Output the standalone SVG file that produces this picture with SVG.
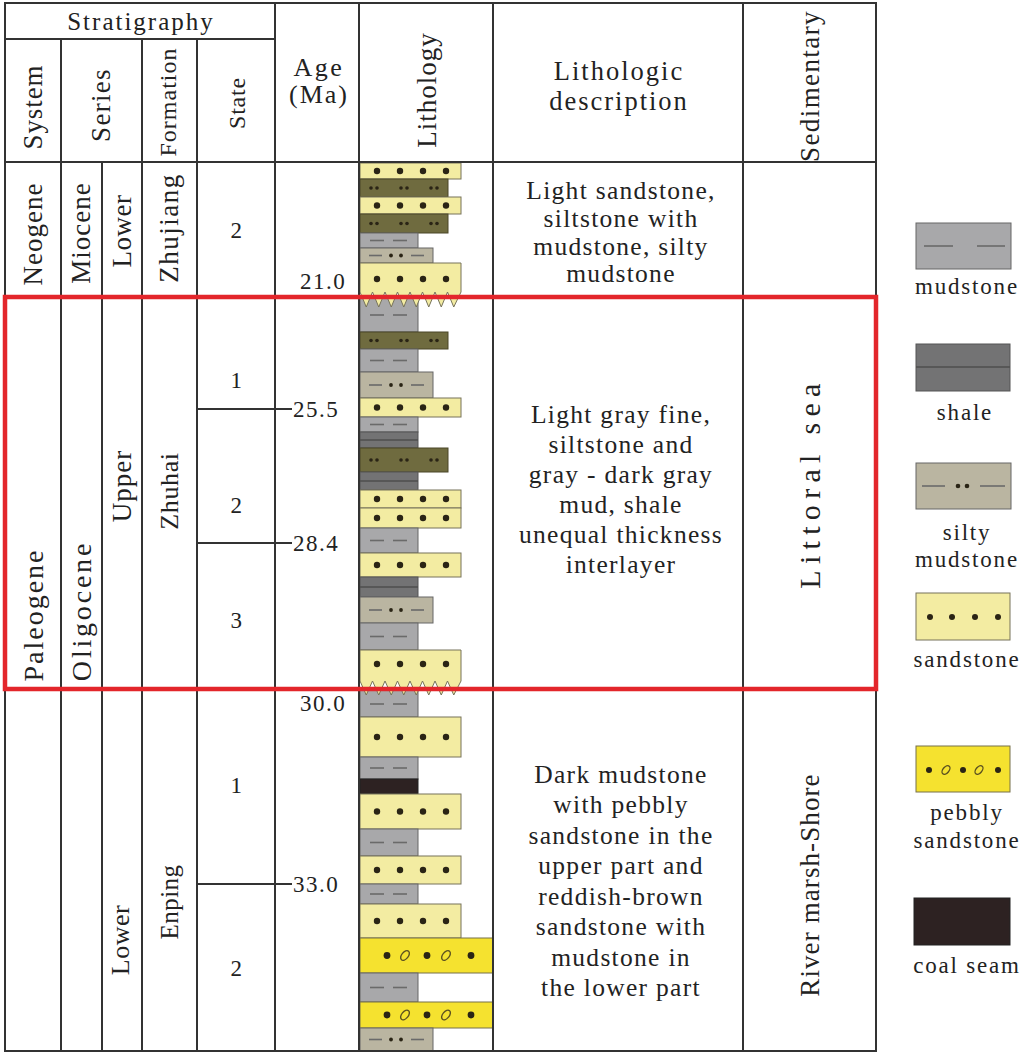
<svg xmlns="http://www.w3.org/2000/svg" width="1024" height="1054" viewBox="0 0 1024 1054">
<style>
.t{font-family:"Liberation Serif","Times New Roman",serif;fill:#222;}
.b{font-size:25.5px;letter-spacing:1.3px;}
.a{font-size:23px;letter-spacing:1.5px;}
.lg{font-size:23px;letter-spacing:1.8px;}
.grid{stroke:#333;stroke-width:2;fill:none;}
.mud{fill:#a8a8aa;stroke:#666;stroke-width:1;}
.shale{fill:#737374;stroke:#555;stroke-width:1;}
.silty{fill:#bab5a1;stroke:#666;stroke-width:1;}
.sand{fill:#f3eca2;stroke:#77735a;stroke-width:1;}
.olive{fill:#6f6b3f;stroke:#4a4728;stroke-width:1;}
.peb{fill:#f5e22f;stroke:#77704a;stroke-width:1;}
.coal{fill:#2d2222;stroke:#222;stroke-width:1;}
.dash{stroke:#6a6a6a;stroke-width:1.6;}
.sline{stroke:#4e4e4e;stroke-width:1.4;}
.dot{fill:#2a2415;}
.ov{fill:none;stroke:#5c5220;stroke-width:1.4;}
</style>
<defs>
<g id="sandDots"><circle cx="377" cy="0" r="3.2" class="dot"/><circle cx="400" cy="0" r="3.2" class="dot"/><circle cx="423" cy="0" r="3.2" class="dot"/><circle cx="446" cy="0" r="3.2" class="dot"/></g>
<g id="oliveDots"><circle cx="371" cy="0" r="1.8" class="dot"/><circle cx="377" cy="0" r="1.8" class="dot"/><circle cx="401" cy="0" r="1.8" class="dot"/><circle cx="407" cy="0" r="1.8" class="dot"/><circle cx="431" cy="0" r="1.8" class="dot"/><circle cx="437" cy="0" r="1.8" class="dot"/></g>
<g id="mudDash"><line x1="370" y1="0" x2="384" y2="0" class="dash"/><line x1="393" y1="0" x2="407" y2="0" class="dash"/></g>
<g id="siltyPat"><line x1="369" y1="0" x2="382" y2="0" class="dash"/><circle cx="391" cy="0" r="1.9" class="dot"/><circle cx="401" cy="0" r="1.9" class="dot"/><line x1="411" y1="0" x2="424" y2="0" class="dash"/></g>
<g id="pebPat"><circle cx="387" cy="0" r="3.4" class="dot"/><ellipse cx="405" cy="0" rx="5.5" ry="3.3" transform="rotate(-50 405 0)" class="ov"/><circle cx="427" cy="0" r="3.4" class="dot"/><ellipse cx="446" cy="0" rx="5.5" ry="3.3" transform="rotate(-50 446 0)" class="ov"/><circle cx="471" cy="0" r="3.4" class="dot"/></g>
</defs>

<g id="lithology">
<rect x="360" y="163" width="101" height="16" class="sand"/><use href="#sandDots" y="171"/>
<rect x="360" y="179" width="88" height="18" class="olive"/><use href="#oliveDots" y="188"/>
<rect x="360" y="197" width="101" height="17" class="sand"/><use href="#sandDots" y="205.5"/>
<rect x="360" y="214" width="88" height="19" class="olive"/><use href="#oliveDots" y="223.5"/>
<rect x="360" y="233" width="58" height="15" class="mud"/><use href="#mudDash" y="240.5"/>
<rect x="360" y="248" width="73" height="15" class="silty"/><use href="#siltyPat" y="255.5"/>
<rect x="360" y="297" width="58" height="35" class="mud"/><use href="#mudDash" y="315"/>
<path d="M360,263 H461 V292 L453.75,307 L447.5,292 L441.25,307 L435,292 L428.75,307 L422.5,292 L416.25,307 L410,292 L403.75,307 L397.5,292 L391.25,307 L385,292 L378.75,307 L372.5,292 L366.25,307 L360,292 Z" class="sand"/><use href="#sandDots" y="279"/>
<rect x="360" y="332" width="88" height="17" class="olive"/><use href="#oliveDots" y="340.5"/>
<rect x="360" y="349" width="58" height="23" class="mud"/><use href="#mudDash" y="360.5"/>
<rect x="360" y="372" width="73" height="26" class="silty"/><use href="#siltyPat" y="385"/>
<rect x="360" y="398" width="101" height="19" class="sand"/><use href="#sandDots" y="407.5"/>
<rect x="360" y="417" width="58" height="15" class="mud"/><use href="#mudDash" y="424.5"/>
<rect x="360" y="432" width="58" height="16" class="shale"/><line x1="360" y1="440" x2="418" y2="440" class="sline"/>
<rect x="360" y="448" width="88" height="24" class="olive"/><use href="#oliveDots" y="460"/>
<rect x="360" y="472" width="58" height="18" class="shale"/><line x1="360" y1="481" x2="418" y2="481" class="sline"/>
<rect x="360" y="490" width="101" height="18" class="sand"/><use href="#sandDots" y="499"/>
<rect x="360" y="508" width="101" height="20" class="sand"/><use href="#sandDots" y="518"/>
<rect x="360" y="528" width="58" height="25" class="mud"/><use href="#mudDash" y="540.5"/>
<rect x="360" y="553" width="101" height="24" class="sand"/><use href="#sandDots" y="565"/>
<rect x="360" y="577" width="58" height="20" class="shale"/><line x1="360" y1="587" x2="418" y2="587" class="sline"/>
<rect x="360" y="597" width="73" height="26" class="silty"/><use href="#siltyPat" y="610"/>
<rect x="360" y="623" width="58" height="27" class="mud"/><use href="#mudDash" y="636.5"/>
<rect x="360" y="688" width="58" height="29" class="mud"/><use href="#mudDash" y="704"/>
<path d="M360,650 H461 V681 L453.75,695 L447.5,681 L441.25,695 L435,681 L428.75,695 L422.5,681 L416.25,695 L410,681 L403.75,695 L397.5,681 L391.25,695 L385,681 L378.75,695 L372.5,681 L366.25,695 L360,681 Z" class="sand"/><use href="#sandDots" y="664"/>
<rect x="360" y="717" width="101" height="40" class="sand"/><use href="#sandDots" y="737"/>
<rect x="360" y="757" width="58" height="22" class="mud"/><use href="#mudDash" y="768"/>
<rect x="360" y="779" width="58" height="15" class="coal"/>
<rect x="360" y="794" width="101" height="35" class="sand"/><use href="#sandDots" y="811.5"/>
<rect x="360" y="829" width="58" height="27" class="mud"/><use href="#mudDash" y="842.5"/>
<rect x="360" y="856" width="101" height="28" class="sand"/><use href="#sandDots" y="870"/>
<rect x="360" y="884" width="58" height="20" class="mud"/><use href="#mudDash" y="894"/>
<rect x="360" y="904" width="101" height="34" class="sand"/><use href="#sandDots" y="921"/>
<rect x="360" y="938" width="133" height="35" class="peb"/><use href="#pebPat" y="955.5"/>
<rect x="360" y="973" width="58" height="29" class="mud"/><use href="#mudDash" y="987.5"/>
<rect x="360" y="1002" width="133" height="26" class="peb"/><use href="#pebPat" y="1015"/>
<rect x="360" y="1028" width="73" height="23" class="silty"/><use href="#siltyPat" y="1039.5"/>
</g>

<g id="connectors">
<rect x="5" y="3" width="871" height="1048" class="grid"/>
<line x1="5" y1="39" x2="275" y2="39" class="grid"/>
<line x1="5" y1="162" x2="876" y2="162" class="grid"/>
<line x1="61" y1="39" x2="61" y2="1051" class="grid"/>
<line x1="102" y1="162" x2="102" y2="1051" class="grid"/>
<line x1="142" y1="39" x2="142" y2="1051" class="grid"/>
<line x1="197" y1="39" x2="197" y2="1051" class="grid"/>
<line x1="275" y1="3" x2="275" y2="1051" class="grid"/>
<line x1="359" y1="3" x2="359" y2="1051" class="grid"/>
<line x1="493" y1="3" x2="493" y2="1051" class="grid"/>
<line x1="743" y1="3" x2="743" y2="1051" class="grid"/>
<line x1="61" y1="689" x2="876" y2="689" class="grid"/>
<line x1="197" y1="409" x2="292" y2="409" class="grid"/>
<line x1="197" y1="543" x2="292" y2="543" class="grid"/>
<line x1="197" y1="884" x2="292" y2="884" class="grid"/>
</g>

<g id="header">
<text class="t" font-size="25" letter-spacing="2" x="141" y="30" text-anchor="middle">Stratigraphy</text>
<text class="t" font-size="27" letter-spacing="0.9" transform="translate(42,107) rotate(-90)" text-anchor="middle">System</text>
<text class="t" font-size="27" letter-spacing="1.3" transform="translate(110,105) rotate(-90)" text-anchor="middle">Series</text>
<text class="t" font-size="24" letter-spacing="1" transform="translate(176,102) rotate(-90)" text-anchor="middle">Formation</text>
<text class="t" font-size="24" letter-spacing="0.8" transform="translate(245,103) rotate(-90)" text-anchor="middle">State</text>
<text class="t" font-size="26" letter-spacing="2.5" x="319" y="76" text-anchor="middle">Age</text>
<text class="t" font-size="26" letter-spacing="2" x="319" y="103" text-anchor="middle">(Ma)</text>
<text class="t" font-size="27" letter-spacing="1" transform="translate(436,90) rotate(-90)" text-anchor="middle">Lithology</text>
<text class="t" font-size="26.5" letter-spacing="2" x="619" y="80" text-anchor="middle">Lithologic</text>
<text class="t" font-size="26.5" letter-spacing="2" x="619" y="110" text-anchor="middle">description</text>
<text class="t" font-size="27" letter-spacing="1.4" transform="translate(819,86) rotate(-90)" text-anchor="middle">Sedimentary</text>
</g>

<g id="neogene">
<text class="t" font-size="27" letter-spacing="1" transform="translate(42,234) rotate(-90)" text-anchor="middle">Neogene</text>
<text class="t" font-size="27" letter-spacing="1" transform="translate(90,233) rotate(-90)" text-anchor="middle">Miocene</text>
<text class="t" font-size="27" letter-spacing="0.5" transform="translate(131,231) rotate(-90)" text-anchor="middle">Lower</text>
<text class="t" font-size="27" letter-spacing="1.5" transform="translate(178,228) rotate(-90)" text-anchor="middle">Zhujiang</text>
<text class="t a" x="237" y="238" text-anchor="middle">2</text>
<text class="t a" x="300" y="289">21.0</text>
<text class="t b" x="621" y="199" text-anchor="middle">Light sandstone,</text>
<text class="t b" x="621" y="227" text-anchor="middle">siltstone with</text>
<text class="t b" x="621" y="255" text-anchor="middle">mudstone, silty</text>
<text class="t b" x="621" y="282" text-anchor="middle">mudstone</text>
</g>

<g id="zhuhai">
<text class="t" font-size="28" letter-spacing="2" transform="translate(43,615) rotate(-90)" text-anchor="middle">Paleogene</text>
<text class="t" font-size="28" letter-spacing="2.8" transform="translate(91,611) rotate(-90)" text-anchor="middle">Oligocene</text>
<text class="t" font-size="27" letter-spacing="1" transform="translate(131,486) rotate(-90)" text-anchor="middle">Upper</text>
<text class="t" font-size="26" letter-spacing="0.6" transform="translate(178,491) rotate(-90)" text-anchor="middle">Zhuhai</text>
<text class="t a" x="237" y="388" text-anchor="middle">1</text>
<text class="t a" x="237" y="513" text-anchor="middle">2</text>
<text class="t a" x="237" y="628" text-anchor="middle">3</text>
<text class="t a" x="293" y="417">25.5</text>
<text class="t a" x="293" y="551">28.4</text>
<text class="t b" x="621" y="423" text-anchor="middle">Light gray fine,</text>
<text class="t b" x="621" y="453" text-anchor="middle">siltstone and</text>
<text class="t b" x="621" y="483" text-anchor="middle">gray - dark gray</text>
<text class="t b" x="621" y="513" text-anchor="middle">mud, shale</text>
<text class="t b" x="621" y="543" text-anchor="middle">unequal thickness</text>
<text class="t b" x="621" y="573" text-anchor="middle">interlayer</text>
<text class="t" font-size="30" letter-spacing="6.3" transform="translate(820,483) rotate(-90)" text-anchor="middle">Littoral sea</text>
</g>

<g id="enping">
<text class="t" font-size="26" letter-spacing="0.5" transform="translate(129,940) rotate(-90)" text-anchor="middle">Lower</text>
<text class="t" font-size="25" letter-spacing="0.5" transform="translate(178,902) rotate(-90)" text-anchor="middle">Enping</text>
<text class="t a" x="237" y="793" text-anchor="middle">1</text>
<text class="t a" x="237" y="976" text-anchor="middle">2</text>
<text class="t a" x="300" y="711">30.0</text>
<text class="t a" x="293" y="892">33.0</text>
<text class="t b" x="621" y="783" text-anchor="middle">Dark mudstone</text>
<text class="t b" x="621" y="813" text-anchor="middle">with pebbly</text>
<text class="t b" x="621" y="844" text-anchor="middle">sandstone in the</text>
<text class="t b" x="621" y="874" text-anchor="middle">upper part and</text>
<text class="t b" x="621" y="905" text-anchor="middle">reddish-brown</text>
<text class="t b" x="621" y="935" text-anchor="middle">sandstone with</text>
<text class="t b" x="621" y="966" text-anchor="middle">mudstone in</text>
<text class="t b" x="621" y="996" text-anchor="middle">the lower part</text>
<text class="t" font-size="27" letter-spacing="1.1" transform="translate(819,885) rotate(-90)" text-anchor="middle">River marsh-Shore</text>
</g>

<rect id="highlight" x="5" y="297" width="871" height="392" fill="none" stroke="#e3262b" stroke-width="4.5"/>

<g id="legend">
<g id="legend-mudstone">
<rect x="916" y="223" width="95" height="46" class="mud"/>
<line x1="924" y1="246" x2="953" y2="246" class="dash"/><line x1="977" y1="246" x2="1005" y2="246" class="dash"/>
<text class="t lg" x="967" y="294" text-anchor="middle">mudstone</text>
</g>
<g id="legend-shale">
<rect x="916" y="344" width="94" height="47" class="shale"/>
<line x1="916" y1="367" x2="1010" y2="367" class="sline"/>
<text class="t lg" x="965" y="420" text-anchor="middle">shale</text>
</g>
<g id="legend-silty">
<rect x="916" y="463" width="95" height="46" class="silty"/>
<line x1="922" y1="486" x2="945" y2="486" class="dash"/><circle cx="958" cy="486" r="2.3" class="dot"/><circle cx="967" cy="486" r="2.3" class="dot"/><line x1="980" y1="486" x2="1005" y2="486" class="dash"/>
<text class="t lg" x="967" y="540" text-anchor="middle">silty</text>
<text class="t lg" x="967" y="567" text-anchor="middle">mudstone</text>
</g>
<g id="legend-sandstone">
<rect x="916" y="593" width="94" height="47" class="sand"/>
<circle cx="930" cy="617" r="3" class="dot"/><circle cx="952" cy="617" r="3" class="dot"/><circle cx="975" cy="617" r="3" class="dot"/><circle cx="998" cy="617" r="3" class="dot"/>
<text class="t lg" x="967" y="667" text-anchor="middle">sandstone</text>
</g>
<g id="legend-pebbly">
<rect x="916" y="746" width="94" height="46" class="peb"/>
<circle cx="929" cy="770" r="3" class="dot"/><ellipse cx="946" cy="770" rx="5" ry="3" transform="rotate(-50 946 770)" class="ov"/><circle cx="963" cy="770" r="3" class="dot"/><ellipse cx="979" cy="770" rx="5" ry="3" transform="rotate(-50 979 770)" class="ov"/><circle cx="998" cy="770" r="3" class="dot"/>
<text class="t lg" x="967" y="820" text-anchor="middle">pebbly</text>
<text class="t lg" x="967" y="848" text-anchor="middle">sandstone</text>
</g>
<g id="legend-coal">
<rect x="914" y="898" width="96" height="47" class="coal"/>
<text class="t lg" x="967" y="973" text-anchor="middle">coal seam</text>
</g>
</g>
</svg>
